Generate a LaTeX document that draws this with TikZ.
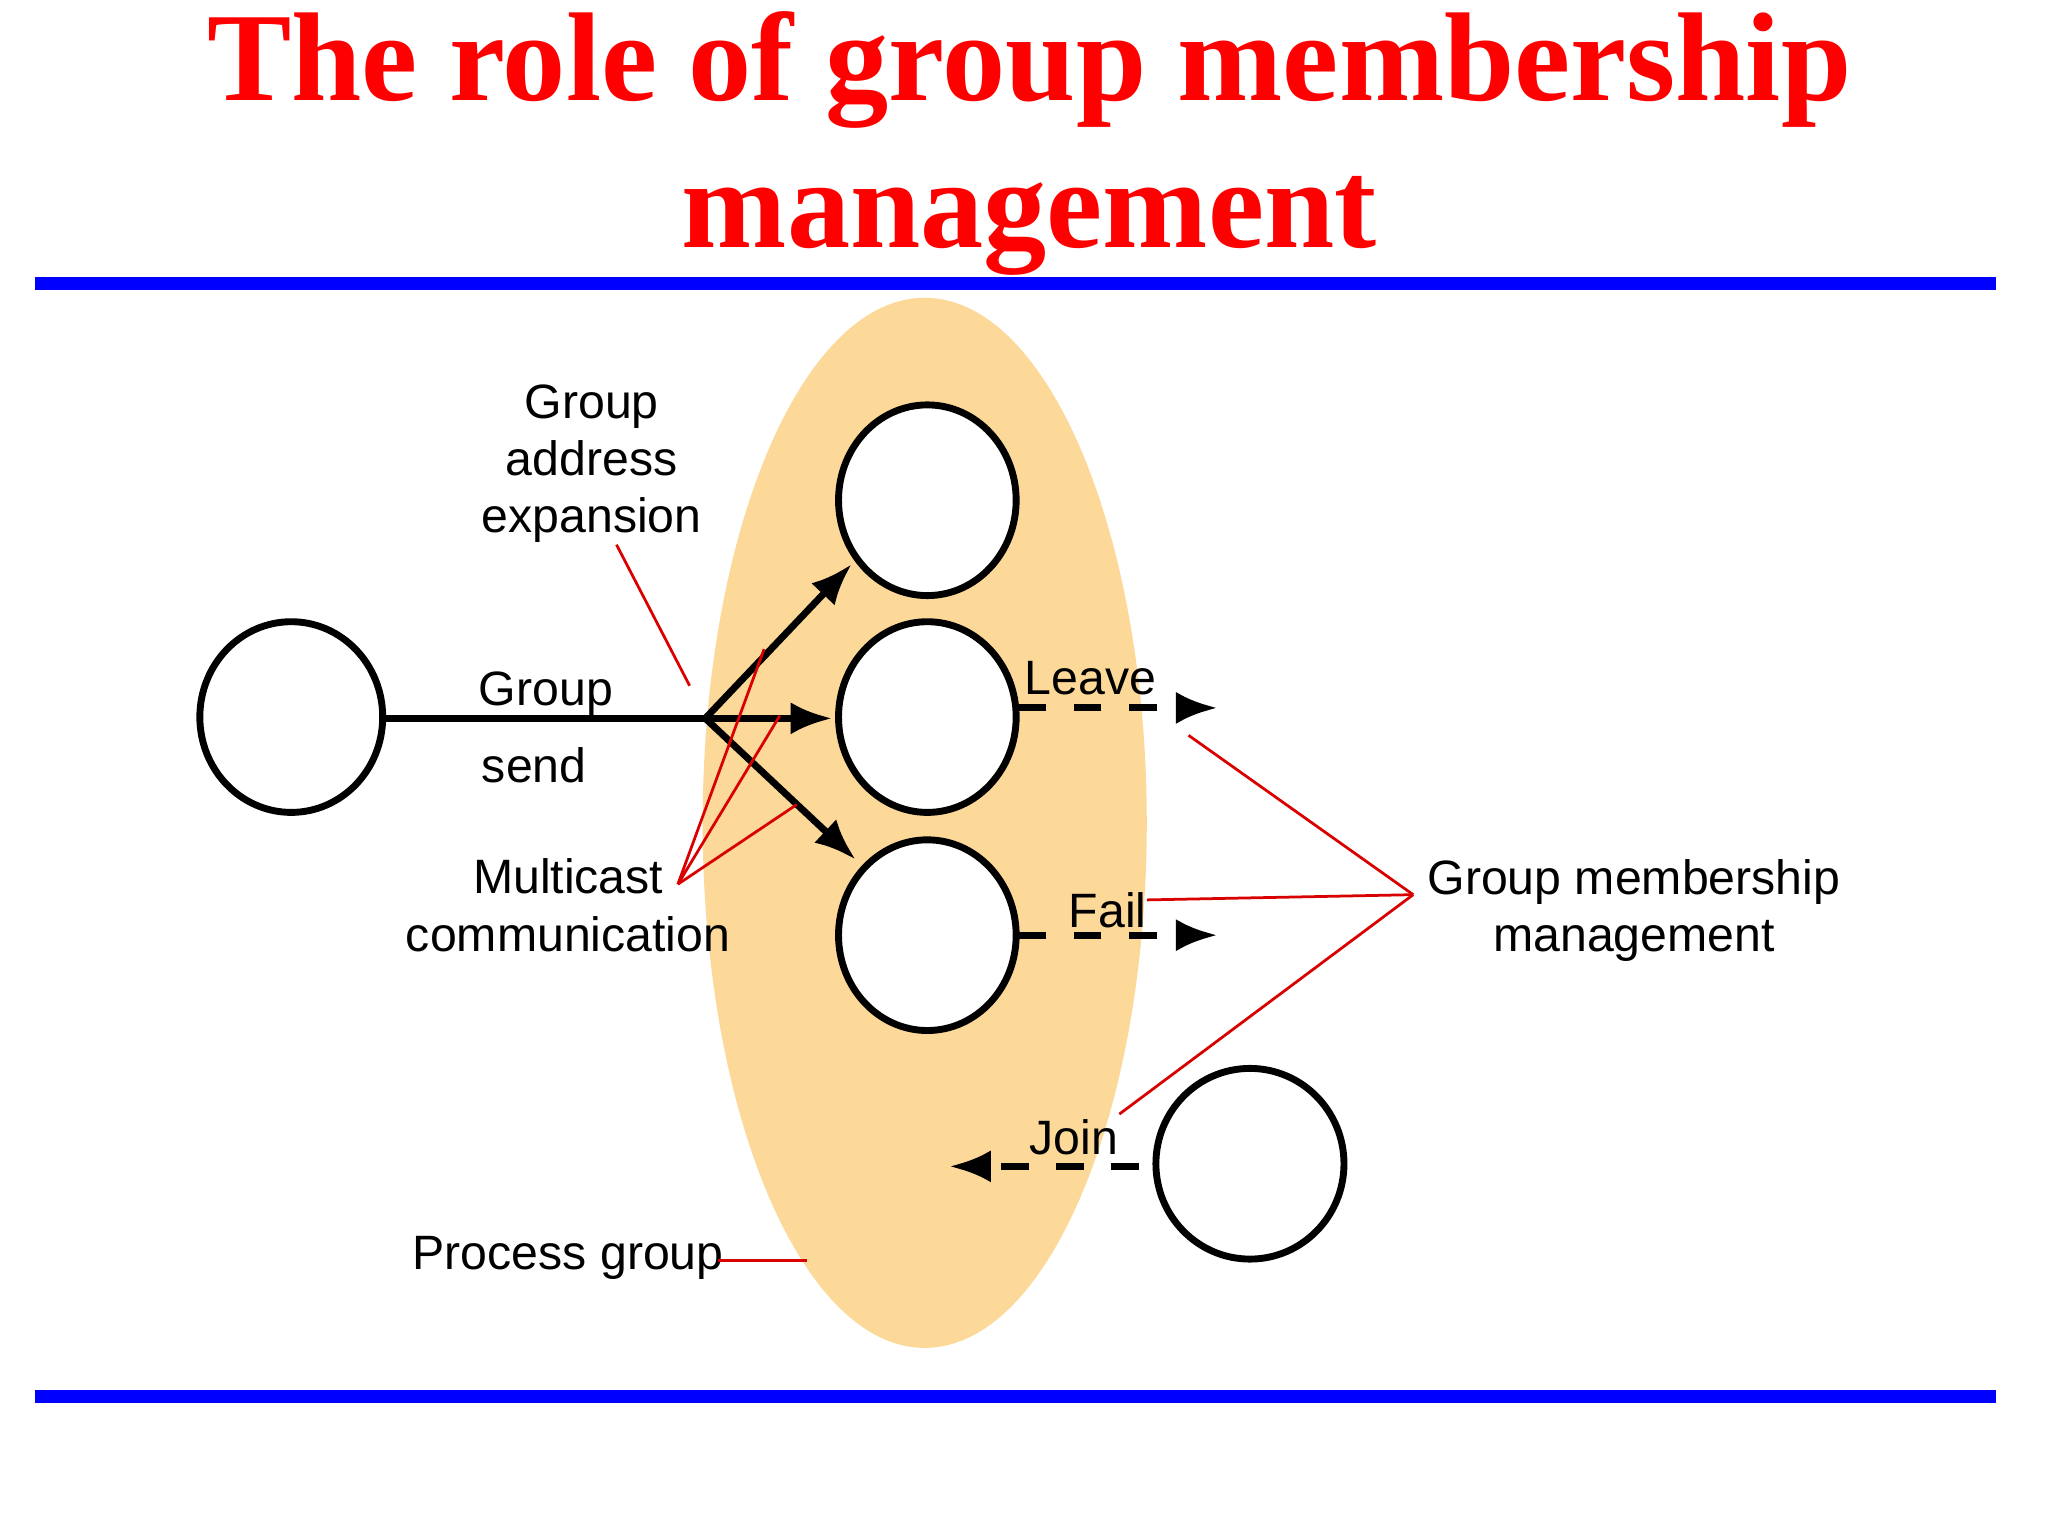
\documentclass[tikz,border=0pt]{standalone}
\usepackage{fontspec}
\setmainfont{Liberation Sans}
\newfontfamily\titlefont{Liberation Serif}
\usetikzlibrary{arrows.meta}
\definecolor{grp}{HTML}{FCD998}
\definecolor{ttl}{HTML}{FF0000}
\tikzset{x=0.01cm,y=-0.01cm,
 pc/.style={draw,fill=white,line width=1.5pt},
 arr/.style={line width=1.5pt,-{Latex[length=9pt,width=7pt]}},
 darr/.style={arr,dash pattern=on 6pt off 6pt},
 lead/.style={draw=red!85!black,line width=0.6pt},
 lbl/.style={font=\fontsize{10.5}{12.5}\selectfont,align=center,inner sep=1pt}}
\begin{document}
\begin{tikzpicture}
\useasboundingbox (0,0) rectangle (1568,1176);
\fill[white] (0,0) rectangle (1568,1176);
\node[font=\titlefont\bfseries\fontsize{27.5}{32}\selectfont,text=ttl,align=center] (title) at (788,110) {The role of group membership\\management};
\fill[blue] (27,212) rectangle (1528,222);
\fill[blue] (27,1064) rectangle (1528,1074);
\fill[grp] (708,630) ellipse [x radius=170, y radius=402];
\draw[pc] (710,383) ellipse [x radius=68, y radius=73]; \coordinate (c1) at (710,383);
\draw[pc] (710,549) ellipse [x radius=68, y radius=73]; \coordinate (c2) at (710,549);
\draw[pc] (710,716) ellipse [x radius=68, y radius=73]; \coordinate (c3) at (710,716);
\draw[pc] (223,549) ellipse [x radius=70, y radius=73]; \coordinate (s) at (223,549);
\draw[pc] (957,891) ellipse [x radius=72, y radius=73]; \coordinate (j) at (957,891);
\coordinate (hub) at (540,550);
\draw[line width=1.5pt] (293,550) -- (hub);
\draw[arr] (hub) -- (652,432);
\draw[arr] (hub) -- (637,550);
\draw[arr] (hub) -- (655,658);
\draw[darr] (780,542) -- (932,542);
\draw[darr] (780,716) -- (932,716);
\draw[darr] (872,893) -- (727,893);
\node[lbl] (gae) at (453,355) {Group\\address\\expansion};
\node[lbl] (gs1) at (418,531) {Group};
\node[lbl] (gs2) at (409,586) {send};
\node[lbl] (mc) at (435,693) {Multicast\\communication};
\node[lbl] (lv) at (835,519) {Leave};
\node[lbl] (fl) at (848,697) {Fail};
\node[lbl] (jn) at (822,871) {Join};
\node[lbl] (gmm) at (1251,697) {Group membership\\management};
\node[lbl] (pg) at (435,963) {Process group};
\coordinate (m) at (519,677);
\coordinate (g) at (1082,685);
\draw[lead] (472,417) -- (528,525);
\draw[lead] (m) -- (585,497); \draw[lead] (m) -- (597,548); \draw[lead] (m) -- (610,616);
\draw[lead] (g) -- (910,563); \draw[lead] (g) -- (878,689); \draw[lead] (g) -- (857,853);
\draw[lead] (550,965) -- (618,965);
\end{tikzpicture}
\end{document}
